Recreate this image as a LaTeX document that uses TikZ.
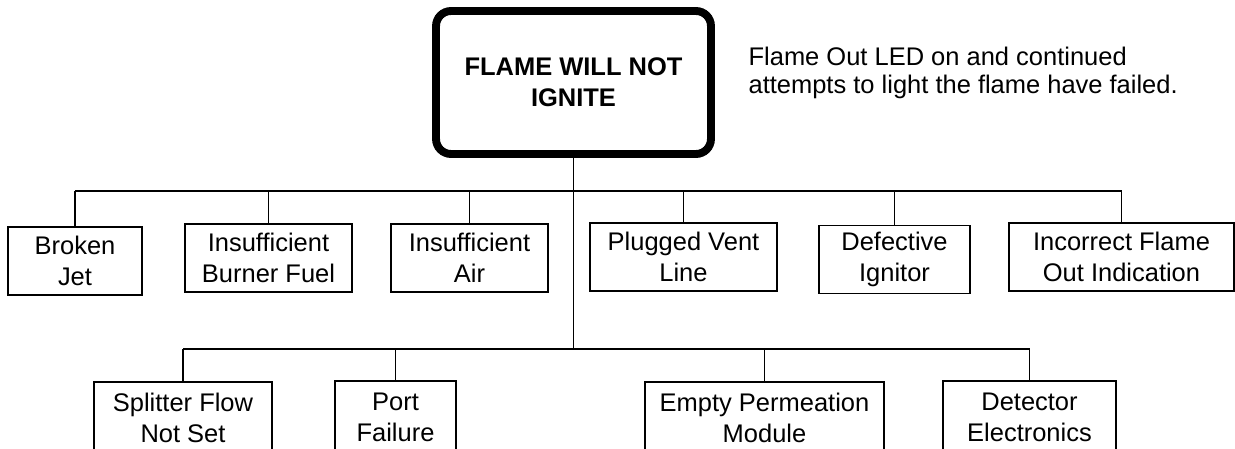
\documentclass[tikz,border=0pt]{standalone}
\usepackage{fontspec}
\setmainfont{Liberation Sans}
\begin{document}
\begin{tikzpicture}[x=0.02cm,y=-0.02cm,
	every path/.style={line width=0.7pt},
	cause/.style={draw,line width=0.7pt,align=center,inner sep=0pt,minimum height=1.36cm,
		font=\fontsize{14.5}{17.5}\selectfont},
	lowcause/.style={cause,minimum height=1.44cm},
	topbox/.style={draw,line width=4.5pt,rounded corners=0.3cm,align=center,inner sep=0pt,
		minimum width=5.5cm,minimum height=2.86cm,font=\fontsize{14.5}{17.5}\selectfont\bfseries},
	note/.style={align=left,inner sep=0pt,font=\fontsize{14.5}{16}\selectfont}]
	\useasboundingbox (0,0) rectangle (1235,449);
	% top event
	\node[topbox] (flame) at (573.5,82.5) {FLAME WILL NOT\\IGNITE};
	\node[note,anchor=north west] (remark) at (748,46) {Flame Out LED on and continued\\attempts to light the flame have failed.};
	% first row of causes
	\node[cause,minimum width=2.68cm] (jet) at (75,261) {Broken\\Jet};
	\node[cause,minimum width=3.34cm] (burner) at (268.5,258) {Insufficient\\Burner Fuel};
	\node[cause,minimum width=3.14cm] (air) at (469.5,258) {Insufficient\\Air};
	\node[cause,minimum width=3.74cm] (vent) at (683.5,257) {Plugged Vent\\Line};
	\node[cause,minimum width=3.02cm] (ignitor) at (894.5,259.5) {Defective\\Ignitor};
	\node[cause,minimum width=4.5cm] (indication) at (1121.5,257) {Incorrect Flame\\Out Indication};
	% second row of causes
	\node[lowcause,minimum width=3.56cm] (splitter) at (183,418) {Splitter Flow\\Not Set};
	\node[lowcause,minimum width=2.42cm] (port) at (395.5,417) {Port\\Failure};
	\node[lowcause,minimum width=4.78cm] (module) at (764.5,418) {Empty Permeation\\Module};
	\node[lowcause,minimum width=3.46cm] (electronics) at (1029.5,417) {Detector\\Electronics};
	% tree lines
	\coordinate (upbus) at (573.5,191);
	\coordinate (lowbus) at (573.5,349);
	\draw (flame.south) -- (lowbus);
	\draw (jet.north |- upbus) -- (indication.north |- upbus);
	\foreach \n in {jet,burner,air,vent,ignitor,indication}
		\draw (\n.north) -- (\n.north |- upbus);
	\draw (splitter.north |- lowbus) -- (electronics.north |- lowbus);
	\foreach \n in {splitter,port,module,electronics}
		\draw (\n.north) -- (\n.north |- lowbus);
\end{tikzpicture}
\end{document}
